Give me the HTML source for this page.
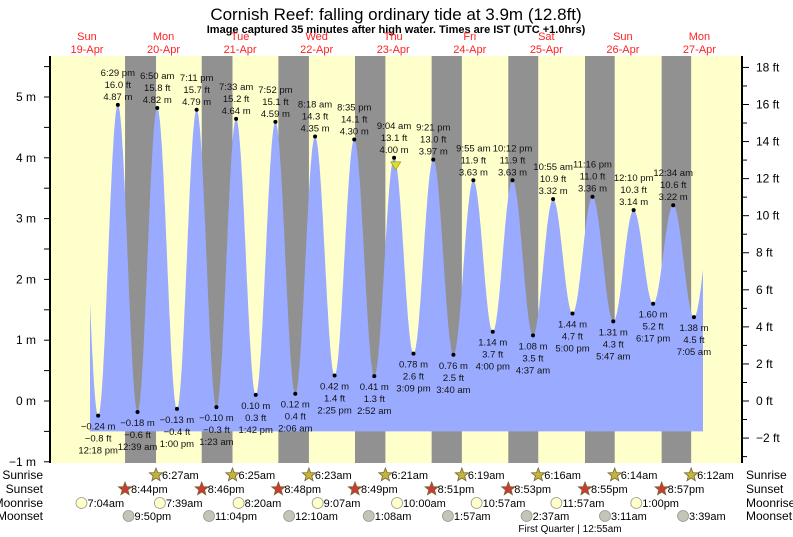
<!DOCTYPE html>
<html><head><meta charset="utf-8"><style>
body{margin:0;background:#fff;}
svg{display:block;font-family:"Liberation Sans",sans-serif;}
</style></head><body>
<svg id="chart" width="793" height="537" viewBox="0 0 793 537">
<text x="396" y="20" text-anchor="middle" font-size="17">Cornish Reef: falling  ordinary tide at 3.9m (12.8ft)</text>
<text x="396" y="33" text-anchor="middle" font-size="11" font-weight="bold">Image captured 35 minutes after high water. Times are IST (UTC +1.0hrs)</text>
<g id="g"></g>
</svg>
<script>
// ---- data ----
const extremeHours=[6.1,12.3,18.48,24.65,30.83,37,43.18,49.38,55.55,61.7,67.87,74.1,80.3,86.42,92.58,98.87,105.07,111.15,117.35,123.67,129.92,136,142.2,148.62,154.92,161,167.27,173.78,180.17,186.28,192.57,199.08,205.5];
const extremeMeters=[4.9,-0.24,4.87,-0.18,4.82,-0.13,4.79,-0.10,4.64,0.10,4.59,0.12,4.35,0.42,4.30,0.41,4.00,0.78,3.97,0.76,3.63,1.14,3.63,1.08,3.32,1.44,3.36,1.31,3.14,1.60,3.22,1.38,3.3];
const extremeFeet=["","-0.8","16.0","-0.6","15.8","-0.4","15.7","-0.3","15.2","0.3","15.1","0.4","14.3","1.4","14.1","1.3","13.1","2.6","13.0","2.5","11.9","3.7","11.9","3.5","10.9","4.7","11.0","4.3","10.3","5.2","10.6","4.5",""];
const extremeTimes=["","12:18 pm","6:29 pm","12:39 am","6:50 am","1:00 pm","7:11 pm","1:23 am","7:33 am","1:42 pm","7:52 pm","2:06 am","8:18 am","2:25 pm","8:35 pm","2:52 am","9:04 am","3:09 pm","9:21 pm","3:40 am","9:55 am","4:00 pm","10:12 pm","4:37 am","10:55 am","5:00 pm","11:16 pm","5:47 am","12:10 pm","6:17 pm","12:34 am","7:05 am",""];
const dayNames=["Sun","Mon","Tue","Wed","Thu","Fri","Sat","Sun","Mon"];
const dayDates=["19-Apr","20-Apr","21-Apr","22-Apr","23-Apr","24-Apr","25-Apr","26-Apr","27-Apr"];
const sunriseHours=[30.45,54.42,78.38,102.35,126.32,150.27,174.23,198.2];
const sunriseLabels=["6:27am","6:25am","6:23am","6:21am","6:19am","6:16am","6:14am","6:12am"];
const sunsetHours=[20.73,44.77,68.8,92.82,116.85,140.88,164.92,188.95];
const sunsetLabels=["8:44pm","8:46pm","8:48pm","8:49pm","8:51pm","8:53pm","8:55pm","8:57pm"];
const moonriseHours=[7.07,31.65,56.33,81.12,106,130.95,155.95,181];
const moonriseLabels=["7:04am","7:39am","8:20am","9:07am","10:00am","10:57am","11:57am","1:00pm"];
const moonsetHours=[21.83,47.07,72.17,97.13,121.95,146.62,171.18,195.65];
const moonsetLabels=["9:50pm","11:04pm","12:10am","1:08am","1:57am","2:37am","3:11am","3:39am"];
const meterTicks=[-1,0,1,2,3,4,5];
const feetTicks=[-2,0,2,4,6,8,10,12,14,16,18];
const nowHour=105.6, nowMeters=3.9;

// ---- scales ----
const PL=50,PR=742,PT=56,PB=463;
const x=h=>58.9+h*3.19;
const y=m=>401-m*60.8;
const yft=f=>y(f*0.3048);
const NS="http://www.w3.org/2000/svg";
const g=document.getElementById('g');
function el(t,a,txt){const e=document.createElementNS(NS,t);for(const k in a)e.setAttribute(k,a[k]);if(txt!==undefined)e.textContent=txt;g.appendChild(e);return e;}

let e;
e=el('rect',{x:PL,y:PT,width:PR-PL,height:PB-PT,fill:'#ffffcc'});


for(let i=0;i<sunsetHours.length;i++){
  const x0=x(sunsetHours[i]),x1=x(sunriseHours[i]);
  e=el('rect',{x:x0,y:PT,width:x1-x0,height:PB-PT,fill:'#919191'});
  
  
}
// tide curve
function level(h){
  for(let i=0;i<extremeHours.length-1;i++){
    if(h>=extremeHours[i]&&h<=extremeHours[i+1]){
      const t=(h-extremeHours[i])/(extremeHours[i+1]-extremeHours[i]);
      const a=extremeMeters[i],b=extremeMeters[i+1];
      return a+(b-a)*(1-Math.cos(Math.PI*t))/2;
    }
  }
  return 0;
}
const h0=(90-58.9)/3.19,h1=(703-58.9)/3.19;
let d=`M${x(h0)},${y(-0.5)}`;
for(let h=h0;h<=h1;h+=0.1)d+=` L${x(h).toFixed(1)},${y(level(h)).toFixed(1)}`;
d+=` L${x(h1)},${y(level(h1))} L${x(h1)},${y(-0.5)} Z`;
e=el('path',{d:d,fill:'#99aaff'});



// extremes
for(let i=1;i<extremeHours.length-1;i++){
  const px=x(extremeHours[i]),py=y(extremeMeters[i]);
  const high=extremeMeters[i]>extremeMeters[i-1];
  e=el('circle',{cx:px,cy:py,r:2,fill:'#000'});
  
  
  const lines=high?[extremeTimes[i],extremeFeet[i]+' ft',extremeMeters[i].toFixed(2)+' m']:[extremeMeters[i].toFixed(2).replace('-','\u2212')+' m',extremeFeet[i].replace('-','\u2212')+' ft',extremeTimes[i]];
  const base=high?py-29:py+14;
  lines.forEach((s,j)=>{
    e=el('text',{x:px,y:base+j*12,'text-anchor':'middle','font-size':'9.5',fill:'#111'},s);
    
    
  });
}
// now marker
e=el('path',{d:`M${x(nowHour)-5},${y(nowMeters)-2} L${x(nowHour)+5},${y(nowMeters)-2} L${x(nowHour)},${y(nowMeters)+6} Z`,fill:'#dddd33',stroke:'#999900','stroke-width':0.7});



// axes
e=el('line',{x1:PL,y1:PT,x2:PL,y2:PB,stroke:'#000','stroke-width':2});


e=el('line',{x1:PR,y1:PT,x2:PR,y2:PB,stroke:'#000','stroke-width':2});


for(let m=-1;m<=5.5;m+=0.5){
  e=el('line',{x1:PL-6,y1:y(m),x2:PL,y2:y(m),stroke:'#000'});
  
  
}
meterTicks.forEach(m=>{
  e=el('text',{x:36,y:y(m)+4,'text-anchor':'end','font-size':'12'},(m<0?'\u2212'+(-m):m)+' m');
  
  
});
for(let f=-3;f<=19;f++){
  if(yft(f)<PT||yft(f)>PB)continue;
  e=el('line',{x1:PR,y1:yft(f),x2:PR+(f%2===0?7:5),y2:yft(f),stroke:'#000'});
  
  
}
feetTicks.forEach(f=>{
  e=el('text',{x:756,y:yft(f)+4,'font-size':'12'},(f<0?'\u2212'+(-f):f)+' ft');
  
  
});
dayNames.forEach((n,i)=>{
  const px=x(i*24+8.8);
  e=el('text',{x:px,y:40,'text-anchor':'middle','font-size':'11',fill:'#ff2222'},n);
  
  
  e=el('text',{x:px,y:53,'text-anchor':'middle','font-size':'11',fill:'#ff2222'},dayDates[i]);
  
  
});

// sun/moon rows
function star(cx,cy,fill){
  let p='';for(let k=0;k<10;k++){const r=k%2?3:7,a=-Math.PI/2+k*Math.PI/5;p+=(k?'L':'M')+(cx+r*Math.cos(a)).toFixed(1)+','+(cy+r*Math.sin(a)).toFixed(1);}
  return el('path',{d:p+'Z',fill:fill,stroke:'#776633','stroke-width':0.8});
}
const rows=[["Sunrise",475,sunriseHours,sunriseLabels],["Sunset",489,sunsetHours,sunsetLabels],["Moonrise",503,moonriseHours,moonriseLabels],["Moonset",516,moonsetHours,moonsetLabels]];
rows.forEach((r,ri)=>{
  e=el('text',{x:43,y:r[1]+4,'text-anchor':'end','font-size':'12'},r[0]);
  
  
  e=el('text',{x:746,y:r[1]+4,'font-size':'12'},r[0]);
  
  
  r[2].forEach((h,i)=>{
    const px=x(h);
    if(ri===0)e=star(px,r[1],'#c4b43c');
    else if(ri===1)e=star(px,r[1],'#cc3a33');
    else e=el('circle',{cx:px,cy:r[1],r:5.5,fill:ri===2?'#ffffcc':'#c4c4b8',stroke:'#999988','stroke-width':0.8});
    
    
    e=el('text',{x:px+6,y:r[1]+4,'font-size':'11'},r[3][i]);
    
    
  });
});
e=el('text',{x:570,y:532,'font-size':'10','text-anchor':'middle'},'First Quarter | 12:55am');


</script>
</body></html>
